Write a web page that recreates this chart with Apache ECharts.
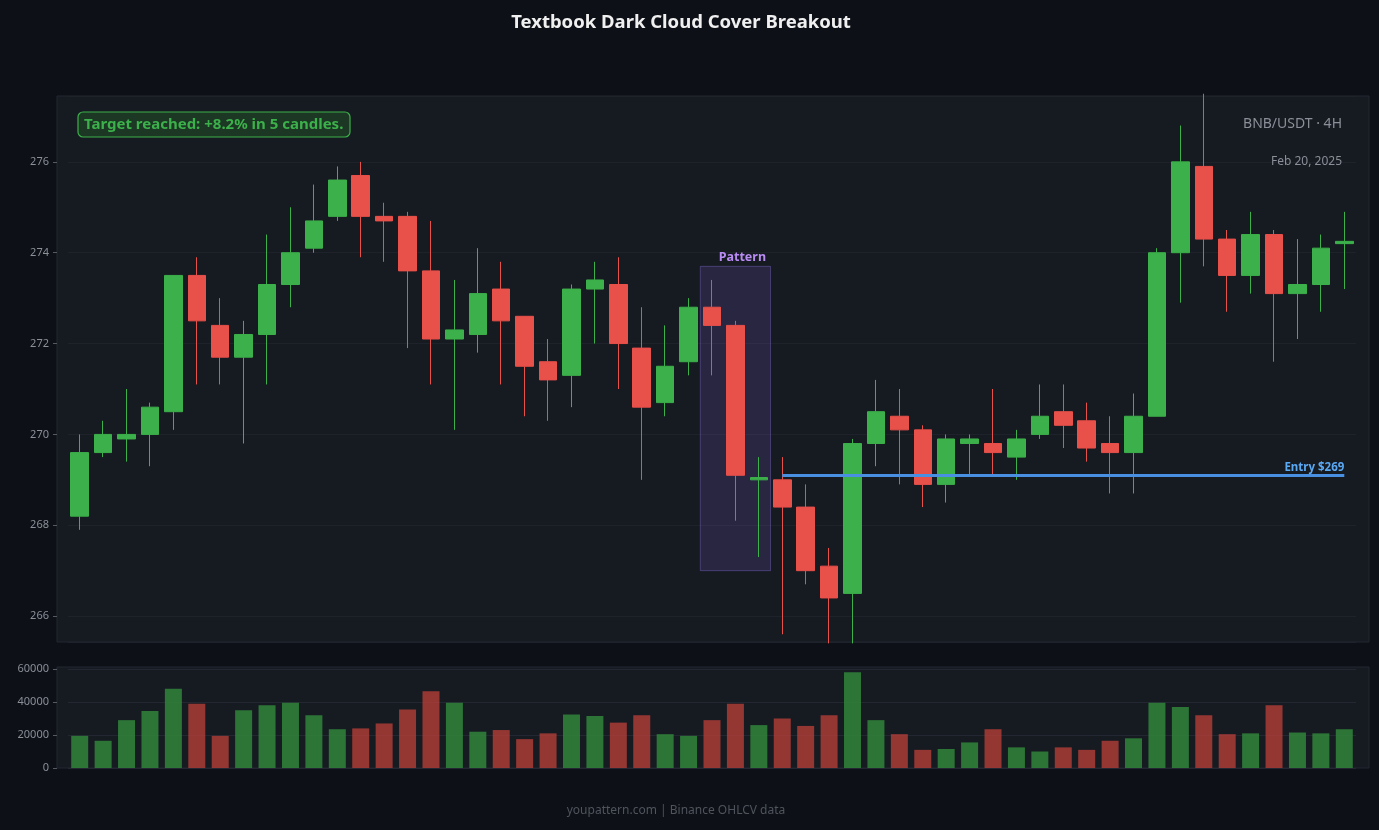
<!DOCTYPE html>
<html><head><meta charset="utf-8">
<script src="https://cdn.jsdelivr.net/npm/echarts@6/dist/echarts.min.js"></script>
<style>html,body{margin:0;padding:0;background:#0d1017}#c{width:1379px;height:830px}</style>
</head><body><div id="c"></div>
<script>
const opens  = [268.2,269.6,269.9,270.0,270.5,273.5,272.4,271.7,272.2,273.3,274.1,274.8,275.7,274.8,274.8,273.6,272.1,272.2,273.2,272.6,271.6,271.3,273.2,273.3,271.9,270.7,271.6,272.8,272.4,269.0,269.0,268.4,267.1,266.5,269.8,270.4,270.1,268.9,269.8,269.8,269.5,270.0,270.5,270.3,269.8,269.6,270.4,274.0,275.9,274.3,273.5,274.4,273.1,273.3,274.2];
const closes = [269.6,270.0,270.0,270.6,273.5,272.5,271.7,272.2,273.3,274.0,274.7,275.6,274.8,274.7,273.6,272.1,272.3,273.1,272.5,271.5,271.2,273.2,273.4,272.0,270.6,271.5,272.8,272.4,269.1,269.05,268.4,267.0,266.4,269.8,270.5,270.1,268.9,269.9,269.9,269.6,269.9,270.4,270.2,269.7,269.6,270.4,274.0,276.0,274.3,273.5,274.4,273.1,273.3,274.1,274.25];
const highs  = [270.0,270.3,271.0,270.7,273.5,273.9,273.0,272.5,274.4,275.0,275.5,275.9,276.0,275.1,274.9,274.7,273.4,274.1,273.8,272.6,272.1,273.3,273.8,273.9,272.8,272.4,273.0,273.4,272.5,269.5,269.5,268.9,267.5,269.9,271.2,271.0,270.2,270.0,270.0,271.0,270.1,271.1,271.1,270.7,270.4,270.9,274.1,276.8,277.5,274.5,274.9,274.5,274.3,274.4,274.9];
const lows   = [267.9,269.5,269.4,269.3,270.1,271.1,271.1,269.8,271.1,272.8,274.0,274.7,273.9,273.8,271.9,271.1,270.1,271.8,271.1,270.4,270.3,270.6,272.0,271.0,269.0,270.4,271.3,271.3,268.1,267.3,265.6,266.7,265.4,265.4,269.3,268.9,268.4,268.5,269.1,269.1,269.0,269.9,269.7,269.4,268.7,268.7,270.4,272.9,273.7,272.7,273.1,271.6,272.1,272.7,273.2];
const volumes = [19500,16500,29000,34500,48000,39000,19500,35000,38000,39500,32000,23500,24000,27000,35500,46500,39500,22000,23000,17500,21000,32500,31500,27500,32000,20500,19500,29000,39000,26000,30000,25500,32000,58000,29000,20500,11000,11500,15500,23500,12500,10000,12500,11000,16500,18000,39500,37000,32000,20500,21000,38000,21500,21000,23500];
const categories = opens.map((_, i) => 'C' + (i + 1));
const priceTicks = [266, 268, 270, 272, 274, 276];
const volumeTicks = [0, 20000, 40000, 60000];
const patternFrom = 'C28', patternTo = 'C30', patternTop = 273.7, patternBottom = 267.0;

const GREEN = '#3cb04a', RED = '#e8504a';
const chart = echarts.init(document.getElementById('c'));
const ohlc = opens.map((o, i) => [o, closes[i], lows[i], highs[i]]);
const vols = volumes.map((v, i) => ({value: v, itemStyle: {color: closes[i] >= opens[i] ? 'rgba(50,140,60,0.8)' : 'rgba(180,62,56,0.8)'}}));
const axisLbl = {color: '#8a8f98', fontSize: 11, fontFamily: 'Noto Sans'};

chart.setOption({
  backgroundColor: '#0d1017',
  animation: false,
  title: {text: 'Textbook Dark Cloud Cover Breakout', left: 676, top: 8, textAlign: 'center',
    textStyle: {color: '#f0f0f0', fontSize: 18.5, fontWeight: 'bold', fontFamily: 'Noto Sans'}},
  graphic: [
    {type: 'rect', z: -10, shape: {x: 57, y: 96, width: 1312, height: 546}, style: {fill: '#161a21', stroke: '#232731', lineWidth: 1}},
    {type: 'rect', z: -10, shape: {x: 57, y: 667, width: 1312, height: 101}, style: {fill: '#161a21', stroke: '#232731', lineWidth: 1}},
    {type: 'rect', z: 10, shape: {x: 78, y: 112, width: 272, height: 25, r: 5}, style: {fill: 'rgba(35,90,40,0.45)', stroke: '#3cb04a', lineWidth: 1.2}},
    {type: 'text', z: 11, x: 84, y: 124.5, style: {text: 'Target reached: +8.2% in 5 candles.', fill: '#3cb04a', font: 'bold 15px "Noto Sans"', align: 'left', verticalAlign: 'middle'}},
    {type: 'text', z: 11, x: 1342, y: 124, style: {text: 'BNB/USDT · 4H', fill: '#8a8f98', font: '14px "Noto Sans"', align: 'right', verticalAlign: 'middle'}},
    {type: 'text', z: 11, x: 1342, y: 162, style: {text: 'Feb 20, 2025', fill: '#8a8f98', font: '12px "Noto Sans"', align: 'right', verticalAlign: 'middle'}},
    {type: 'text', z: 11, x: 676, y: 811, style: {text: 'youpattern.com | Binance OHLCV data', fill: '#4f545d', font: '12px "Noto Sans"', align: 'center', verticalAlign: 'middle'}}
  ],
  grid: [
    {left: 68, right: 23, top: 96, height: 546},
    {left: 68, right: 23, top: 669, height: 99}
  ],
  xAxis: [
    {type: 'category', data: categories, gridIndex: 0, axisLine: {show: false}, axisTick: {show: false}, axisLabel: {show: false}, splitLine: {show: false}},
    {type: 'category', data: categories, gridIndex: 1, axisLine: {show: false}, axisTick: {show: false}, axisLabel: {show: false}, splitLine: {show: false}}
  ],
  yAxis: [
    {type: 'value', gridIndex: 0, min: 265.43, max: 277.45, splitNumber: 6, position: 'left', offset: 11,
      axisLabel: Object.assign({showMinLabel: false, showMaxLabel: false, formatter: v => priceTicks.includes(Math.round(v*100)/100) ? String(Math.round(v)) : ''}, axisLbl),
      axisLine: {show: false}, axisTick: {show: true, length: 4, lineStyle: {color: '#555a63'}},
      splitLine: {lineStyle: {color: '#1e222a'}}},
    {type: 'value', gridIndex: 1, min: 0, max: 60000, interval: 20000, position: 'left', offset: 11,
      axisLabel: Object.assign({formatter: v => volumeTicks.includes(v) ? String(v) : ''}, axisLbl),
      axisLine: {show: false}, axisTick: {show: true, length: 4, lineStyle: {color: '#555a63'}},
      splitLine: {lineStyle: {color: '#232731'}}}
  ],
  series: [
    {type: 'candlestick', xAxisIndex: 0, yAxisIndex: 0, data: ohlc, barWidth: 18,
      itemStyle: {color: GREEN, color0: RED, borderColor: GREEN, borderColor0: RED, borderWidth: 1},
      markLine: {silent: true, symbol: 'none', lineStyle: {color: '#4a90e2', width: 3, type: 'solid'},
        label: {show: true, position: 'insideEndTop', formatter: 'Entry $269', color: '#5aa9f5', fontWeight: 'bold', fontSize: 11.5, fontFamily: 'Noto Sans', distance: [0, 2]},
        data: [[{coord: ['C31', 269.1]}, {coord: ['C55', 269.1]}]]}
    },
    {type: 'bar', xAxisIndex: 1, yAxisIndex: 1, data: vols, barWidth: 17}
  ]
});
const half = (chart.convertToPixel({xAxisIndex: 0}, 'C2') - chart.convertToPixel({xAxisIndex: 0}, 'C1')) / 2;
const x1 = chart.convertToPixel({xAxisIndex: 0}, patternFrom) - half;
const x2 = chart.convertToPixel({xAxisIndex: 0}, patternTo) + half;
chart.setOption({series: [{markArea: {silent: true,
  itemStyle: {color: 'rgba(120,90,200,0.2)', borderColor: 'rgba(120,100,190,0.45)', borderWidth: 1},
  label: {show: true, position: 'insideTopRight', offset: [0, -20], color: '#b98cf5', fontWeight: 'bold', fontSize: 12.5, fontFamily: 'Noto Sans'},
  data: [[{name: 'Pattern', x: x1, yAxis: patternTop}, {x: x2, yAxis: patternBottom}]]}}]});
</script></body></html>
